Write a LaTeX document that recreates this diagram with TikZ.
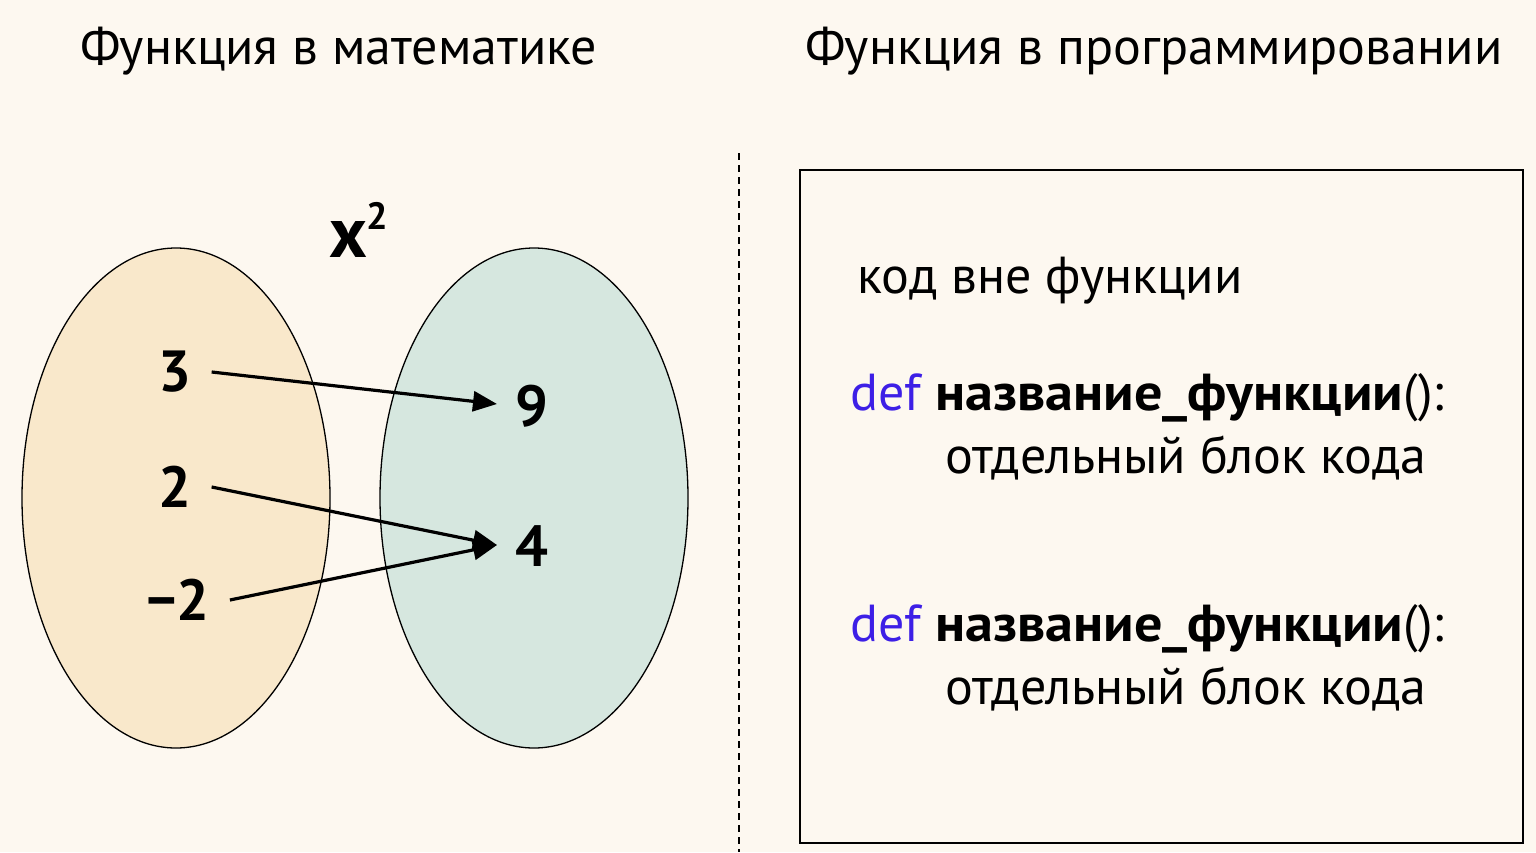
\documentclass[tikz,border=0pt]{standalone}
\usepackage{fontspec}
\usepackage{graphicx}
\setmainfont{PT Sans}
\usetikzlibrary{arrows.meta}
\definecolor{bg}{HTML}{FDF8F0}
\definecolor{setA}{HTML}{F9E8CB}
\definecolor{setB}{HTML}{D6E7DF}
\definecolor{kw}{HTML}{3D1FE6}
\newcommand{\fname}{\scalebox{1.08}[1]{\textbf{название\_функции}}}
\tikzset{
  title/.style={anchor=base west, inner sep=0pt, font=\fontsize{52}{60}\selectfont},
  code/.style={anchor=base west, inner sep=0pt, font=\fontsize{52}{60}\selectfont},
  num/.style={inner ysep=4pt, inner xsep=20pt, font=\fontsize{58}{64}\selectfont\bfseries},
  setell/.style={draw=black, line width=1.3pt},
  maparrow/.style={line width=3.2pt, -{Triangle[length=24pt,width=20pt]}},
}
\begin{document}
\begin{tikzpicture}[x=1pt,y=-1pt]
\useasboundingbox (0,0) rectangle (1536,852);
\fill[bg] (0,0) rectangle (1536,852);
% titles
\node[title] (t1) at (80,64) {Функция в математике};
\node[title] (t2) at (805,64) {Функция в программировании};
% sets
\filldraw[setell, fill=setA] (176,498) ellipse [x radius=154, y radius=250];
\filldraw[setell, fill=setB] (534,498) ellipse [x radius=154, y radius=250];
\node[anchor=base, inner sep=0pt, font=\fontsize{72}{72}\selectfont\bfseries] (fx) at (348,257) {x};
\node[anchor=base west, inner sep=0pt, font=\fontsize{38}{38}\selectfont\bfseries] (fx2) at (366,229) {2};
\node[num] (a3) at (175,372) {3};
\node[num] (a2) at (175,487) {2};
\node[num] (am2) at (178,600) {−2};
\node[num] (b9) at (532,406) {9};
\node[num] (b4) at (532,546) {4};
\coordinate (b9in) at (497,404);
\coordinate (b4in) at (497,545);
\draw[maparrow] (a3.east) -- (b9in);
\draw[maparrow] (a2.east) -- (b4in);
\draw[maparrow] (am2.east) -- (b4in);
% divider
\coordinate (d1) at (739,153);
\coordinate (d2) at (739,852);
\draw[line width=2pt, dash pattern=on 7pt off 5pt] (d1) -- (d2);
% program box
\draw[line width=2.5pt] (800,170) rectangle (1523,843);
\node[code] (c0) at (857,293) {код вне функции};
\node[code] (c1) at (850,410) {\textcolor{kw}{def} \fname():};
\node[code] (c2) at (945,473) {отдельный блок кода};
\node[code] (c3) at (850,641) {\textcolor{kw}{def} \fname():};
\node[code] (c4) at (945,704) {отдельный блок кода};
\end{tikzpicture}
\end{document}
